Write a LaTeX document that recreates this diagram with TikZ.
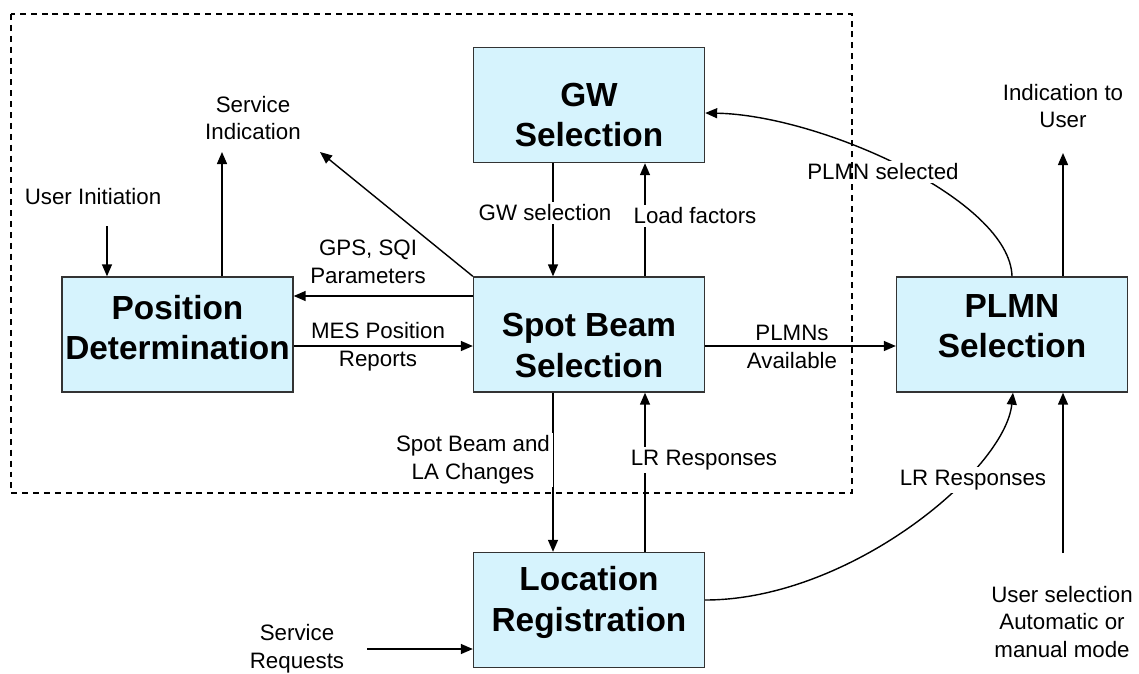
\documentclass[tikz,border=0pt]{standalone}
\usepackage{fontspec}
\setmainfont{Liberation Sans}
\usetikzlibrary{positioning,calc,arrows.meta}
\definecolor{boxblue}{RGB}{214,243,253}
\tikzset{block/.style={draw=black!80,line width=0.8pt,fill=boxblue,minimum width=4.62cm,minimum height=2.3cm}}
\tikzset{btext/.style={align=center,font=\fontsize{19}{23}\selectfont\bfseries}}
\tikzset{lbl/.style={align=center,font=\fontsize{12.7}{15.9}\selectfont}}
\tikzset{gaplbl/.style={lbl,fill=white,inner sep=1.5pt}}
\tikzset{arr/.style={-{Triangle[length=2.4mm,width=2mm]},line width=0.8pt}}
\tikzset{frame/.style={dash pattern=on 3.4pt off 2.8pt,line width=0.7pt}}

\begin{document}
\begin{tikzpicture}[x=0.02cm,y=-0.02cm]
  \useasboundingbox (0,0) rectangle (1139,673);
  \node[block,label={[btext,yshift=0.14cm]center:{Position\\Determination}}] (pos) at (177.5,334.5) {};
  \node[block,label={[btext,yshift=-0.2cm]center:{GW\\Selection}}] (gw) at (589,105) {};
  \node[block,label={[btext,yshift=-0.22cm]center:{Spot Beam\\Selection}}] (spot) at (589,334.5) {};
  \node[block,label={[btext,yshift=0.17cm]center:{PLMN\\Selection}}] (plmn) at (1012,334.5) {};
  \node[block,label={[btext,yshift=0.15cm]center:{Location\\Registration}}] (locreg) at (589,610) {};
  \coordinate (uiend) at (107,226);
  \coordinate (siend) at (222,152);
  \coordinate (diagend) at (320,152);
  \coordinate (indend) at (1063,153);
  \coordinate (usend) at (1063,553);
  \coordinate (srend) at (367,649);
  \draw[arr] (uiend) -- (uiend |- pos.north);
  \draw[arr] (pos.north -| siend) -- (siend);
  \draw[arr] (spot.north west) -- (diagend);
  \draw[arr] (spot.west |- 0,296) -- (pos.east |- 0,296);
  \draw[arr] (pos.east |- 0,346) -- (spot.west |- 0,346);
  \draw[arr] (gw.south -| 553,0) -- (spot.north -| 553,0);
  \draw[arr] (spot.north -| 645,0) -- (gw.south -| 645,0);
  \draw[arr] (spot.east |- 0,346) -- (plmn.west |- 0,346);
  \draw[arr] (plmn.north -| indend) -- (indend);
  \draw[arr] (plmn.north -| 1012,0) .. controls (1010,200) and (820,115) .. (gw.east |- 0,113);
  \draw[arr] (spot.south -| 553,0) -- (locreg.north -| 553,0);
  \draw[arr] (locreg.north -| 645,0) -- (spot.south -| 645,0);
  \draw[arr] (locreg.east |- 0,600) .. controls (850,600) and (1005,470) .. (plmn.south -| 1013,0);
  \draw[arr] (usend) -- (usend |- plmn.south);
  \draw[arr] (srend) -- (srend -| locreg.west);
  \node[lbl] (ui) at (93,197) {User Initiation};
  \node[lbl] (si) at (253,118) {Service\\Indication};
  \node[lbl] (gps) at (368,262) {GPS, SQI\\Parameters};
  \node[lbl] (mes) at (378,347) {MES Position\\Reports};
  \node[gaplbl] (gwsel) at (545,213) {GW selection};
  \node[gaplbl] (load) at (695,216) {Load factors};
  \node[lbl] (avail) at (792,347) {PLMNs\\Available};
  \node[gaplbl] (plsel) at (883,172) {PLMN selected};
  \node[lbl] (ind) at (1063,106) {Indication to\\User};
  \node[gaplbl] (sbla) at (473,460) {Spot Beam and\\LA Changes};
  \node[gaplbl] (lrin) at (704,460) {LR Responses};
  \node[gaplbl] (lrout) at (973,480) {LR Responses};
  \node[lbl] (sreq) at (297,649) {Service\\Requests};
  \node[lbl] (usel) at (1062,622) {User selection\\Automatic or\\manual mode};
  \draw[frame] (11,14) rectangle (852,493);
\end{tikzpicture}
\end{document}
